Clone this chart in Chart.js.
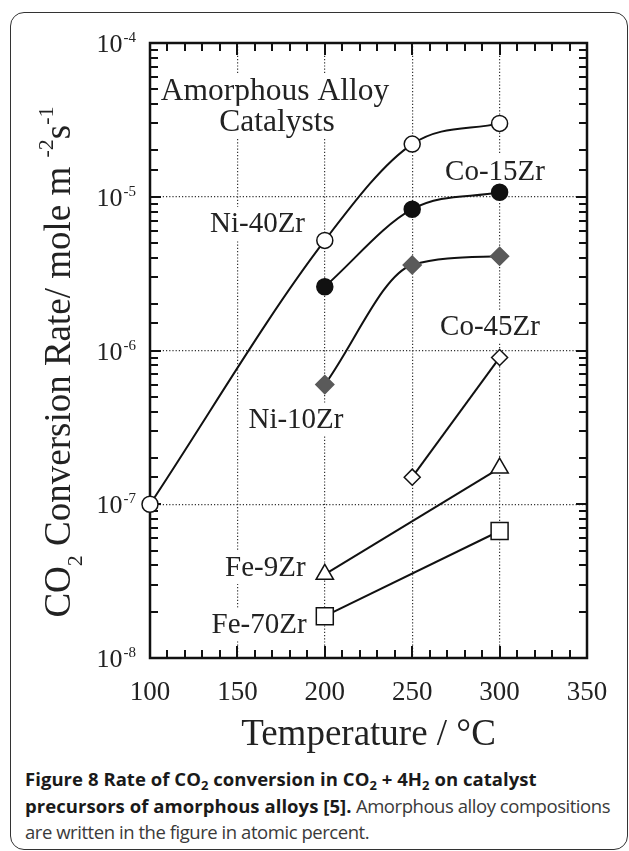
<!DOCTYPE html>
<html>
<head>
<meta charset="utf-8">
<script src="https://cdn.jsdelivr.net/npm/chart.js@4.4.0/dist/chart.umd.min.js"></script>
<style>
html,body{margin:0;padding:0;background:#fff;}
#wrap{position:relative;width:629px;height:851px;overflow:hidden;}
#frame{position:absolute;left:10px;top:12px;width:618px;height:838px;box-sizing:border-box;border:1.5px solid #333;border-radius:14px;}
#chart{position:absolute;left:0;top:0;}
#caption{position:absolute;left:25px;top:766px;font-family:'Open Sans',sans-serif;font-size:18.5px;line-height:26.5px;color:#3a3a3a;white-space:nowrap;letter-spacing:-0.45px;}
#caption b{color:#1a1a1a;letter-spacing:0.05px;}
.sub{font-size:0.7em;vertical-align:-0.3em;line-height:0;}
</style>
</head>
<body>
<div id="wrap">
  <div id="frame"></div>
  <canvas id="chart" width="629" height="760"></canvas>
  <div id="caption"><b>Figure 8 Rate of CO<span class="sub">2</span> conversion in CO<span class="sub">2</span> + 4H<span class="sub">2</span> on catalyst<br>precursors of amorphous alloys [5].</b> Amorphous alloy compositions<br>are written in the figure in atomic percent.</div>
</div>
<script>
'use strict'

//Ni-40Zr (open circle)
const ni40Temp = [100, 200, 250, 300];
const ni40Rate = [1.0e-7, 5.2e-6, 2.2e-5, 3.0e-5];
//Co-15Zr (filled circle)
const co15Temp = [200, 250, 300];
const co15Rate = [2.6e-6, 8.3e-6, 1.07e-5];
//Ni-10Zr (gray diamond)
const ni10Temp = [200, 250, 300];
const ni10Rate = [6.0e-7, 3.6e-6, 4.1e-6];
//Co-45Zr (open diamond)
const co45Temp = [250, 300];
const co45Rate = [1.5e-7, 9.0e-7];
//Fe-9Zr (open triangle)
const fe9Temp = [200, 300];
const fe9Rate = [3.5e-8, 1.72e-7];
//Fe-70Zr (open square)
const fe70Temp = [200, 300];
const fe70Rate = [1.87e-8, 6.7e-8];

//axis
const xTicksMajor = [100, 150, 200, 250, 300, 350];
const xGridLines = [150, 200, 250, 300];
const yDecades = [-8, -7, -6, -5, -4];

//text in the plot (data coords, baseline)
const plotLabels = [
	{text: 'Amorphous Alloy', x: 171.5, y: 4.26e-5, size: 31.5},
	{text: 'Catalysts', x: 172.7, y: 2.68e-5, size: 31.5},
	{text: 'Ni-40Zr', x: 161.5, y: 5.9e-6, size: 29},
	{text: 'Co-15Zr', x: 297.4, y: 1.285e-5, size: 29},
	{text: 'Co-45Zr', x: 294.5, y: 1.26e-6, size: 29},
	{text: 'Ni-10Zr', x: 183.5, y: 3.13e-7, size: 29},
	{text: 'Fe-9Zr', x: 166, y: 3.41e-8, size: 29},
	{text: 'Fe-70Zr', x: 162.4, y: 1.46e-8, size: 29}
];

const SERIF = "'Liberation Serif', 'Times New Roman', serif";
const TICK_COLOR = '#111';

function pairs(xs, ys){
	return xs.map((v, i) => ({x: v, y: ys[i]}));
}
function isDecade(v){
	const l = Math.log10(v);
	return Math.abs(l - Math.round(l)) < 1e-6;
}

function series(xs, ys, style, fill, radius, smooth){
	return {
		data: pairs(xs, ys),
		borderColor: '#111',
		borderWidth: 2,
		cubicInterpolationMode: smooth ? 'monotone' : 'default',
		tension: smooth ? 0.4 : 0,
		pointStyle: style,
		pointRadius: radius,
		pointBackgroundColor: fill,
		pointBorderColor: '#111',
		pointBorderWidth: 1.5,
		clip: false
	};
}

const framePlugin = {
	id: 'frameTicks',
	beforeDatasetsDraw(chart){
		const {ctx, chartArea: a, scales: {x, y}} = chart;
		ctx.save();
		//labels on white
		ctx.textAlign = 'center';
		ctx.textBaseline = 'alphabetic';
		plotLabels.forEach((l) => {
			ctx.font = l.size + 'px ' + SERIF;
			const px = x.getPixelForValue(l.x);
			const py = y.getPixelForValue(l.y);
			const w = ctx.measureText(l.text).width;
			ctx.fillStyle = '#fff';
			ctx.fillRect(px - w / 2 - 4, py - 25, w + 8, 33);
			ctx.fillStyle = '#222';
			ctx.fillText(l.text, px, py);
		});
		//frame
		ctx.strokeStyle = '#111';
		ctx.lineWidth = 2.5;
		ctx.strokeRect(a.left, a.top, a.right - a.left, a.bottom - a.top);
		//inner ticks
		ctx.fillStyle = TICK_COLOR;
		for (let v = 100; v <= 350; v += 10) {
			const px = Math.round(x.getPixelForValue(v));
			const len = xTicksMajor.includes(v) ? 12 : 8;
			ctx.fillRect(px - 1, a.bottom - len, 2, len);
			ctx.fillRect(px - 1, a.top, 2, len);
		}
		y.ticks.forEach((t) => {
			const py = Math.round(y.getPixelForValue(t.value));
			const len = isDecade(t.value) ? 11 : 8;
			ctx.fillRect(a.left, py - 1, len, 2);
			ctx.fillRect(a.right - len, py - 1, len, 2);
		});
		ctx.restore();
	},
	afterDraw(chart){
		const {ctx, scales: {y}} = chart;
		ctx.save();
		ctx.fillStyle = '#222';
		ctx.textBaseline = 'alphabetic';
		//y tick labels 10^n
		yDecades.forEach((n) => {
			const py = y.getPixelForValue(Math.pow(10, n));
			const sup = '-' + Math.abs(n);
			ctx.font = '15px ' + SERIF;
			const ws = ctx.measureText(sup).width;
			ctx.textAlign = 'left';
			ctx.fillText(sup, 136 - ws, py - 1);
			ctx.font = '26px ' + SERIF;
			ctx.textAlign = 'right';
			ctx.fillText('10', 136 - ws - 1, py + 9);
		});
		//y title
		const parts = [
			{t: 'CO', s: 37, dy: 0},
			{t: '2', s: 22, dy: 12},
			{t: ' Conversion Rate/ mole m ', s: 37, dy: 0},
			{t: '-2', s: 22, dy: -17},
			{t: 's', s: 37, dy: 0},
			{t: '-1', s: 22, dy: -17}
		];
		let total = 0;
		parts.forEach((p) => {
			ctx.font = p.s + 'px ' + SERIF;
			p.w = ctx.measureText(p.t).width;
			total += p.w;
		});
		ctx.translate(70, 362 + total / 2);
		ctx.rotate(-Math.PI / 2);
		ctx.textAlign = 'left';
		let cx = 0;
		parts.forEach((p) => {
			ctx.font = p.s + 'px ' + SERIF;
			ctx.fillText(p.t, cx, p.dy);
			cx += p.w;
		});
		ctx.restore();
	}
};

new Chart(document.getElementById('chart'), {
	type: 'line',
	data: {
		datasets: [
			series(ni40Temp, ni40Rate, 'circle', '#fff', 8, true),
			series(co15Temp, co15Rate, 'circle', '#111', 8, true),
			Object.assign(series(ni10Temp, ni10Rate, 'rectRot', '#5a5a5a', 9, true), {pointBorderColor: '#5a5a5a'}),
			series(co45Temp, co45Rate, 'rectRot', '#fff', 8, false),
			series(fe9Temp, fe9Rate, 'triangle', '#fff', 10, false),
			series(fe70Temp, fe70Rate, 'rect', '#fff', 12, false)
		]
	},
	options: {
		responsive: false,
		animation: false,
		layout: {padding: {left: 0, right: 42, top: 43, bottom: 0}},
		plugins: {legend: {display: false}, tooltip: {enabled: false}},
		scales: {
			x: {
				type: 'linear',
				min: 100,
				max: 350,
				afterFit: (s) => { s.height = 102; },
				ticks: {
					stepSize: 10,
					autoSkip: false,
					maxRotation: 0,
					padding: 19,
					color: '#222',
					font: {family: SERIF, size: 27},
					callback: (v) => (Math.round(v) % 50 === 0 ? String(Math.round(v)) : '')
				},
				grid: {
					drawTicks: false,
					lineWidth: 1.2,
					color: (c) => (c.tick && xGridLines.includes(Math.round(c.tick.value)) ? '#333' : 'transparent')
				},
				border: {display: false, dash: [1.2, 2]},
				title: {
					display: true,
					text: 'Temperature / °C',
					color: '#222',
					font: {family: SERIF, size: 37},
					padding: {top: 0, bottom: 3}
				}
			},
			y: {
				type: 'logarithmic',
				min: 1e-8,
				max: 1e-4,
				afterFit: (s) => { s.width = 150; },
				ticks: {
					autoSkip: false,
					callback: () => ''
				},
				grid: {
					drawTicks: false,
					lineWidth: 1.2,
					color: (c) => (c.tick && isDecade(c.tick.value) && c.tick.value > 1.5e-8 && c.tick.value < 0.9e-4 ? '#333' : 'transparent')
				},
				border: {display: false, dash: [1.2, 2]}
			}
		}
	},
	plugins: [framePlugin]
});
</script>
</body>
</html>
